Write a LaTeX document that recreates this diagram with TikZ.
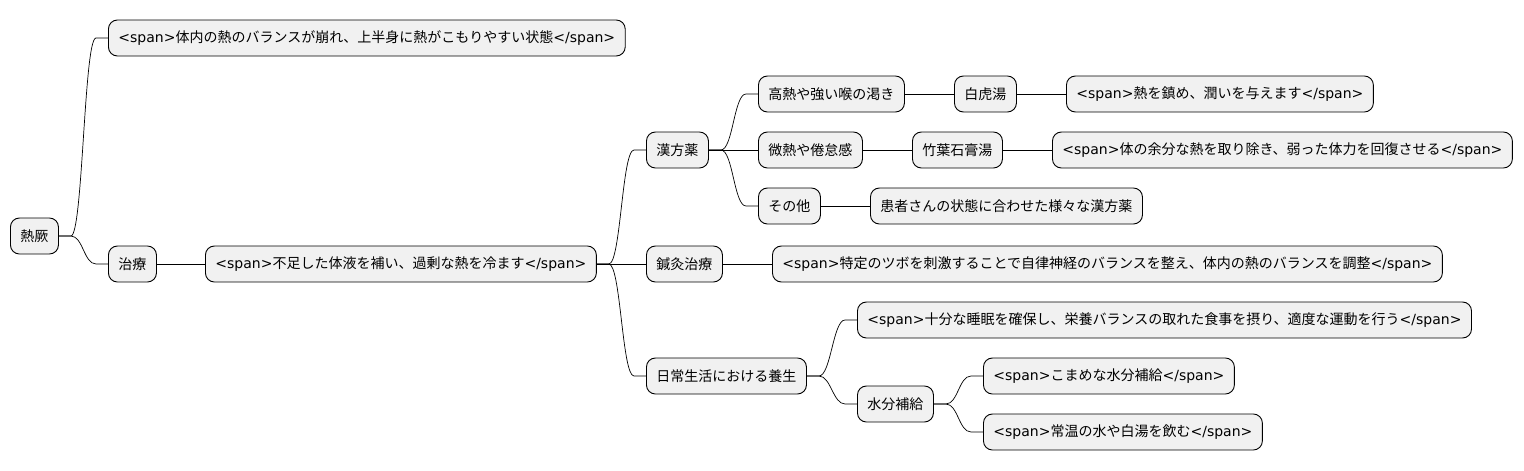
\documentclass[tikz,border=0pt]{standalone}
\usepackage{fontspec}
\setmainfont{Noto Sans CJK JP}
\newfontfamily\latinfont{DejaVu Sans}
\newcommand\spn[1]{{\latinfont <span>}#1{\latinfont </span>}}
\definecolor{boxfill}{HTML}{F1F1F1}
\begin{document}
\begin{tikzpicture}[x=1pt,y=1pt,
  topic/.style={draw,fill=boxfill,rounded corners=9pt,line width=0.9pt,minimum height=36pt,inner xsep=10pt,anchor=west,font=\fontsize{14}{16}\selectfont},
  branch/.style={line width=0.7pt}]
\useasboundingbox (0,0) rectangle (1524,-471);
% nodes
\node[topic] (netsu) at (10,-236) {熱厥};
\node[topic] (jotai) at (108,-38) {\spn{体内の熱のバランスが崩れ、上半身に熱がこもりやすい状態}};
\node[topic] (chiryo) at (108,-264) {治療};
\node[topic] (hosoku) at (205,-264) {\spn{不足した体液を補い、過剰な熱を冷ます}};
\node[topic] (kampo) at (646,-150) {漢方薬};
\node[topic] (konetsu) at (758,-94) {高熱や強い喉の渇き};
\node[topic] (byakko) at (954,-94) {白虎湯};
\node[topic] (shizume) at (1066,-94) {\spn{熱を鎮め、潤いを与えます}};
\node[topic] (binetsu) at (758,-150) {微熱や倦怠感};
\node[topic] (chikuyo) at (912,-150) {竹葉石膏湯};
\node[topic] (yobun) at (1052,-150) {\spn{体の余分な熱を取り除き、弱った体力を回復させる}};
\node[topic] (sonota) at (758,-206) {その他};
\node[topic] (kanja) at (870,-206) {患者さんの状態に合わせた様々な漢方薬};
\node[topic] (shinkyu) at (646,-264) {鍼灸治療};
\node[topic] (tokutei) at (772,-264) {\spn{特定のツボを刺激することで自律神経のバランスを整え、体内の熱のバランスを調整}};
\node[topic] (nichijo) at (646,-376) {日常生活における養生};
\node[topic] (juubun) at (857,-320) {\spn{十分な睡眠を確保し、栄養バランスの取れた食事を摂り、適度な運動を行う}};
\node[topic] (suibun) at (857,-404) {水分補給};
\node[topic] (komame) at (983,-376) {\spn{こまめな水分補給}};
\node[topic] (jouon) at (983,-432) {\spn{常温の水や白湯を飲む}};
% connectors
\draw[branch] (netsu.east) -- ++(12,0) .. controls +(12,0) and +(-12,0) .. ([xshift=-12pt]jotai.west) -- (jotai.west);
\draw[branch] (netsu.east) -- ++(12,0) .. controls +(12,0) and +(-12,0) .. ([xshift=-12pt]chiryo.west) -- (chiryo.west);
\draw[branch] (chiryo.east) -- (hosoku.west);
\draw[branch] (hosoku.east) -- ++(12,0) .. controls +(12,0) and +(-12,0) .. ([xshift=-12pt]kampo.west) -- (kampo.west);
\draw[branch] (hosoku.east) -- (shinkyu.west);
\draw[branch] (hosoku.east) -- ++(12,0) .. controls +(12,0) and +(-12,0) .. ([xshift=-12pt]nichijo.west) -- (nichijo.west);
\draw[branch] (kampo.east) -- ++(12,0) .. controls +(12,0) and +(-12,0) .. ([xshift=-12pt]konetsu.west) -- (konetsu.west);
\draw[branch] (kampo.east) -- (binetsu.west);
\draw[branch] (kampo.east) -- ++(12,0) .. controls +(12,0) and +(-12,0) .. ([xshift=-12pt]sonota.west) -- (sonota.west);
\draw[branch] (konetsu.east) -- (byakko.west);
\draw[branch] (byakko.east) -- (shizume.west);
\draw[branch] (binetsu.east) -- (chikuyo.west);
\draw[branch] (chikuyo.east) -- (yobun.west);
\draw[branch] (sonota.east) -- (kanja.west);
\draw[branch] (shinkyu.east) -- (tokutei.west);
\draw[branch] (nichijo.east) -- ++(12,0) .. controls +(12,0) and +(-12,0) .. ([xshift=-12pt]juubun.west) -- (juubun.west);
\draw[branch] (nichijo.east) -- ++(12,0) .. controls +(12,0) and +(-12,0) .. ([xshift=-12pt]suibun.west) -- (suibun.west);
\draw[branch] (suibun.east) -- ++(12,0) .. controls +(12,0) and +(-12,0) .. ([xshift=-12pt]komame.west) -- (komame.west);
\draw[branch] (suibun.east) -- ++(12,0) .. controls +(12,0) and +(-12,0) .. ([xshift=-12pt]jouon.west) -- (jouon.west);
\end{tikzpicture}
\end{document}
